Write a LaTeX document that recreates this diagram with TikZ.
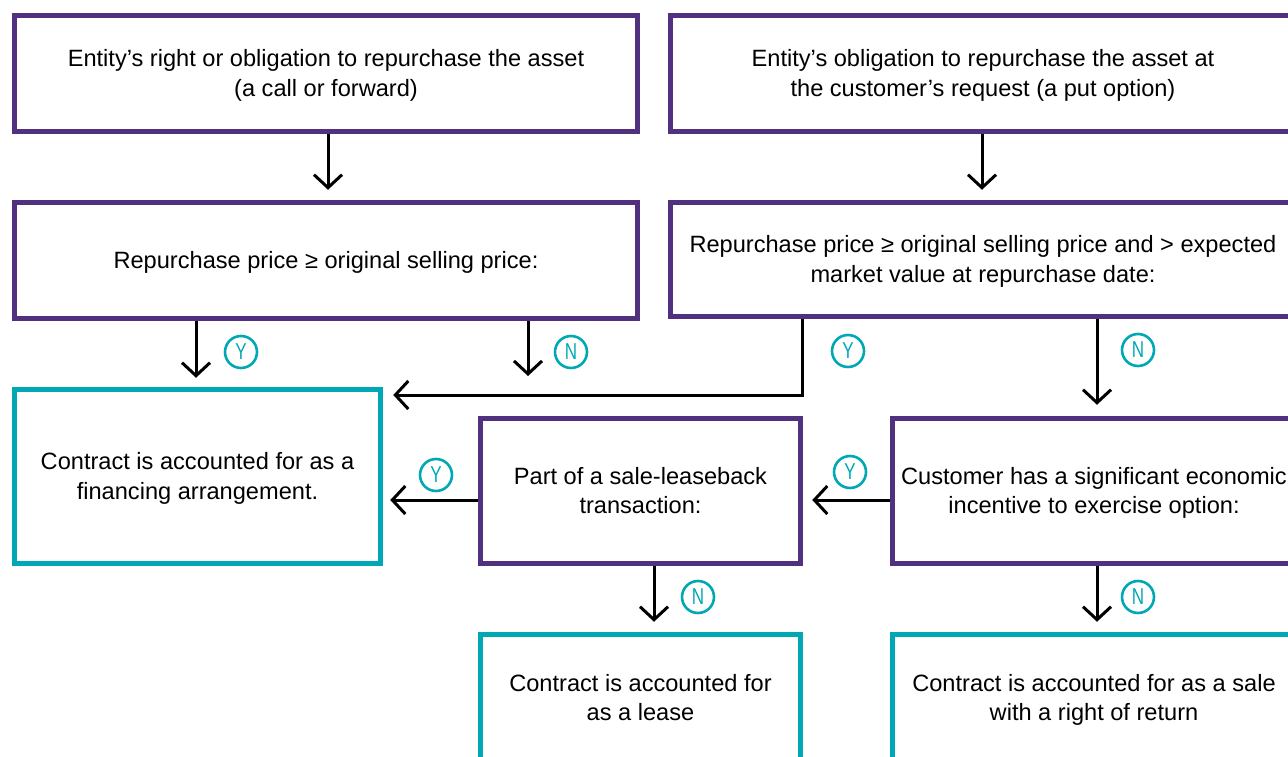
\documentclass[tikz,border=0pt]{standalone}
\usepackage{fontspec}
\setmainfont{Liberation Sans}
\newfontfamily\ynfont[FakeStretch=0.74]{Liberation Sans}
\usetikzlibrary{arrows.meta}
\definecolor{purp}{HTML}{51307F}
\definecolor{tealc}{HTML}{00A8B6}
\newcommand\ps{\rule[-5pt]{0pt}{26.4pt}}
\begin{document}
\begin{tikzpicture}[x=1pt,y=-1pt,
  qbox/.style={draw=purp,line width=5.5pt,align=center,inner sep=0pt,fill=white,
    font=\fontsize{23.6}{29.5}\selectfont},
  rbox/.style={qbox,draw=tealc},
  arr/.style={draw=black,line width=3pt,-{Straight Barb[length=13pt,width=28pt]}},
  yn/.style={circle,draw=tealc,line width=2.6pt,minimum size=32pt,inner sep=0pt,
    text=tealc,font=\ynfont\fontsize{23}{23}\selectfont}]
\fill[white] (0,0) rectangle (1288,757);
\useasboundingbox (0,0) rectangle (1288,757);
\node[qbox,minimum width=623pt,minimum height=116pt] (A) at (326,73.5)
  {\ps Entity’s right or obligation to repurchase the asset\\\ps(a call or forward)};
\node[qbox,minimum width=625pt,minimum height=116pt] (B) at (983,73.5)
  {\ps Entity’s obligation to repurchase the asset at\\\ps the customer’s request (a put option)};
\node[qbox,minimum width=623pt,minimum height=116pt] (C) at (326,260.5)
  {\ps Repurchase price ≥ original selling price:};
\node[qbox,minimum width=625pt,minimum height=114pt] (D) at (983,259.5)
  {\ps Repurchase price ≥ original selling price and > expected\\\ps market value at repurchase date:};
\node[rbox,minimum width=366pt,minimum height=174pt] (E) at (197.5,476.5)
  {\ps Contract is accounted for as a\\\ps financing arrangement.};
\node[qbox,minimum width=320pt,minimum height=145pt] (F) at (640.5,491)
  {\ps Part of a sale-leaseback\\\ps transaction:};
\node[qbox,minimum width=403pt,minimum height=145pt] (G) at (1094,491)
  {\ps Customer has a significant economic\\\ps incentive to exercise option:};
\node[rbox,minimum width=320pt,minimum height=127pt] (H) at (640.5,698)
  {\ps Contract is accounted for\\\ps as a lease};
\node[rbox,minimum width=403pt,minimum height=127pt] (I) at (1094,698)
  {\ps Contract is accounted for as a sale\\\ps with a right of return};
\coordinate (cn) at (528,376);
\coordinate (dy) at (802,395);
\draw[arr,shorten >=10pt] (A.south -| 328,0) -- (C.north -| 328,0);
\draw[arr,shorten >=10pt] (B.south -| 982,0) -- (D.north -| 982,0);
\draw[arr,shorten >=9pt] (C.south -| 196,0) -- (E.north -| 196,0);
\node[yn] (y1) at (241,352) {Y};
\draw[arr] (C.south -| 528,0) -- (cn);
\node[yn] (n1) at (571,352) {N};
\draw[arr,shorten >=10pt] (D.south -| 802,0) -- (dy) -- (E.east |- dy);
\node[yn] (y2) at (848,351) {Y};
\draw[arr,shorten >=11pt] (D.south -| 1097,0) -- (G.north -| 1097,0);
\node[yn] (n2) at (1138,350) {N};
\draw[arr,shorten >=7pt] (F.west |- 0,500) -- (E.east |- 0,500);
\node[yn] (y3) at (436,475) {Y};
\draw[arr,shorten >=9pt] (G.west |- 0,500) -- (F.east |- 0,500);
\node[yn] (y4) at (850,472) {Y};
\draw[arr,shorten >=10pt] (F.south -| 654,0) -- (H.north -| 654,0);
\node[yn] (n3) at (698,597) {N};
\draw[arr,shorten >=10pt] (G.south -| 1097,0) -- (I.north -| 1097,0);
\node[yn] (n4) at (1138,597) {N};
\end{tikzpicture}
\end{document}
